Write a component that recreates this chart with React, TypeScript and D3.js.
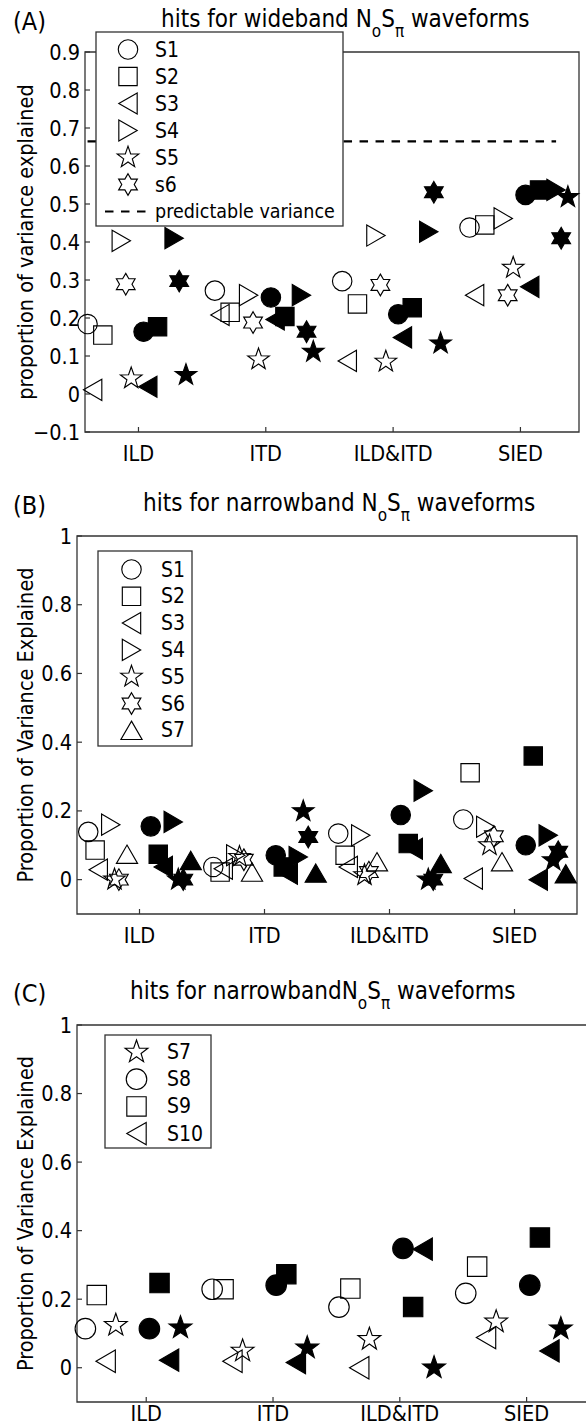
import React from "react";
import * as d3 from "d3";

// ---------- DATA ----------
const categories = ["ILD", "ITD", "ILD&ITD", "SIED"];

// Panel A: wideband
const subjectsA = ["S1", "S2", "S3", "S4", "S5", "s6"];
const shapesA = ["circle", "square", "left", "right", "star5", "star6"];
const openA = [
  [0.184, 0.272, 0.297, 0.438],
  [0.155, 0.215, 0.237, 0.445],
  [0.011, 0.208, 0.087, 0.26],
  [0.403, 0.26, 0.417, 0.462],
  [0.041, 0.091, 0.085, 0.332],
  [0.289, 0.188, 0.287, 0.26],
];
const filledA = [
  [0.164, 0.254, 0.21, 0.524],
  [0.177, 0.204, 0.227, 0.537],
  [0.019, 0.196, 0.149, 0.282],
  [0.41, 0.26, 0.427, 0.537],
  [0.05, 0.111, 0.133, 0.518],
  [0.297, 0.164, 0.531, 0.41],
];
const predictableVariance = 0.665;
const predictableRange = [0.6, 4.28];

// Panel B: narrowband
const subjectsB = ["S1", "S2", "S3", "S4", "S5", "S6", "S7"];
const shapesB = ["circle", "square", "left", "right", "star5", "star6", "up"];
const openB = [
  [0.139, 0.037, 0.134, 0.175],
  [0.086, 0.022, 0.071, 0.311],
  [0.029, 0.032, 0.037, 0.003],
  [0.16, 0.071, 0.129, 0.154],
  [0.0, 0.066, 0.013, 0.1],
  [0.0, 0.058, 0.022, 0.126],
  [0.074, 0.022, 0.052, 0.052],
];
const filledB = [
  [0.155, 0.071, 0.188, 0.1],
  [0.074, 0.037, 0.105, 0.36],
  [0.037, 0.017, 0.09, 0.0],
  [0.168, 0.066, 0.259, 0.129],
  [0.0, 0.199, 0.0, 0.056],
  [0.0, 0.124, 0.0, 0.081],
  [0.056, 0.019, 0.047, 0.017],
];

// Panel C: narrowband, new subjects
const subjectsC = ["S7", "S8", "S9", "S10"];
const shapesC = ["star5", "circle", "square", "left"];
const openC = [
  [0.124, 0.049, 0.083, 0.134],
  [0.114, 0.229, 0.177, 0.217],
  [0.212, 0.229, 0.231, 0.295],
  [0.019, 0.019, 0.0, 0.088],
];
const filledC = [
  [0.117, 0.058, 0.0, 0.114],
  [0.114, 0.241, 0.348, 0.241],
  [0.247, 0.273, 0.177, 0.38],
  [0.022, 0.015, 0.346, 0.049],
];

// per-subject horizontal jitter within a category (category units)
const jitterOpenA = [-0.4, -0.28, -0.36, -0.135, -0.057, -0.1];
const jitterFilledA = [0.04, 0.15, 0.073, 0.28, 0.373, 0.32];
const jitterOpenB = [-0.41, -0.355, -0.33, -0.23, -0.2, -0.165, -0.1];
const jitterFilledB = [0.09, 0.15, 0.19, 0.27, 0.31, 0.35, 0.41];
const jitterOpenC = [-0.24, -0.48, -0.39, -0.32];
const jitterFilledC = [0.27, 0.025, 0.105, 0.18];

const ticksA = [-0.1, 0, 0.1, 0.2, 0.3, 0.4, 0.5, 0.6, 0.7, 0.8, 0.9];
const ticksBC = [0, 0.2, 0.4, 0.6, 0.8, 1];

// ---------- STYLE ----------
const FONT = '"DejaVu Sans Condensed", "DejaVu Sans", sans-serif';
const AXIS = "#333";

function markerPath(shape: string, k = 1): string {
  if (shape === "circle") {
    const r = 9 * k;
    return `M${r},0A${r},${r} 0 1,1 ${-r},0A${r},${r} 0 1,1 ${r},0Z`;
  }
  if (shape === "square") {
    const h = 8.5 * k;
    return `M${-h},${-h}L${h},${-h}L${h},${h}L${-h},${h}Z`;
  }
  if (shape === "left" || shape === "right" || shape === "up") {
    const a = 8.5 * k;
    const b = 9.8 * k;
    let pts: number[][];
    if (shape === "left") pts = [[-a, 0], [a, -b], [a, b]];
    else if (shape === "right") pts = [[a, 0], [-a, -b], [-a, b]];
    else pts = [[0, -a], [b, a], [-b, a]];
    return "M" + pts.map((p) => p.join(",")).join("L") + "Z";
  }
  const n = shape === "star5" ? 5 : 6;
  const R = (n === 5 ? 10.5 : 10) * k;
  const r = n === 5 ? R * 0.4 : R / Math.sqrt(3);
  const pts: string[] = [];
  for (let i = 0; i < 2 * n; i++) {
    const ang = -Math.PI / 2 + (i * Math.PI) / n;
    const rr = i % 2 === 0 ? R : r;
    pts.push(`${(rr * Math.cos(ang)).toFixed(2)},${(rr * Math.sin(ang)).toFixed(2)}`);
  }
  return "M" + pts.join("L") + "Z";
}

type PanelProps = {
  letter: string;
  pre: string;
  titleX: number;
  titleY: number;
  ylabel: string;
  xRange: [number, number];
  xDomain: [number, number];
  yRange: [number, number];
  yDomain: [number, number];
  ticks: number[];
  subjects: string[];
  shapes: string[];
  open: number[][];
  filled: number[][];
  jOpen: number[];
  jFilled: number[];
  legend: { x: number; y: number; w: number; h: number; y0: number; dy: number; mx: number; tx: number };
  markerScale: number;
  xLabelDy: number;
  predictable?: boolean;
  svgW: number;
};

function Panel(p: PanelProps) {
  const x = d3.scaleLinear().domain(p.xDomain).range(p.xRange);
  const y = d3.scaleLinear().domain(p.yDomain).range(p.yRange);
  const [x0, x1] = p.xRange;
  const [yb, yt] = p.yRange;
  const fmt = (v: number) => {
    const s = d3.format("")(Math.round(v * 10) / 10);
    return s.replace("-", "\u2212");
  };
  const L = p.legend;
  const xr = Math.min(x1, p.svgW + 10);
  const sw = 1.15;
  return (
    <g>
      {/* panel letter and title */}
      <text x={13} y={p.titleY + 3} fontSize={25} fontFamily={FONT}>
        {p.letter}
      </text>
      <text x={p.titleX} y={p.titleY} fontSize={24} fontFamily={FONT}>
        {p.pre}N
        <tspan fontSize={17} dy={10}>o</tspan>
        <tspan dy={-10}>S</tspan>
        <tspan fontSize={17} dy={10}>{"\u03C0"}</tspan>
        <tspan dy={-10}> waveforms</tspan>
      </text>
      {/* y label */}
      <text
        transform={`translate(25,${(yb + yt) / 2}) rotate(-90)`}
        textAnchor="middle"
        dominantBaseline="central"
        fontSize={21.5}
        fontFamily={FONT}
      >
        {p.ylabel}
      </text>
      {/* axes box */}
      <path d={`M${x0},${yt}L${x0},${yb}L${xr},${yb}L${xr},${yt}Z`} fill="none" stroke={AXIS} strokeWidth={1.3} />
      {p.ticks.map((t) => (
        <g key={"yt" + t}>
          <line x1={x0} x2={x0 + 5} y1={y(t)} y2={y(t)} stroke={AXIS} strokeWidth={1.2} />
          <text x={x0 - 5} y={y(t)} textAnchor="end" dominantBaseline="central" fontSize={21.5} fontFamily={FONT}>
            {fmt(t)}
          </text>
        </g>
      ))}
      {categories.map((c, i) => (
        <g key={"xt" + c}>
          <line x1={x(i + 1)} x2={x(i + 1)} y1={yb} y2={yb - 5} stroke={AXIS} strokeWidth={1.2} />
          <text x={x(i + 1)} y={yb + p.xLabelDy} textAnchor="middle" fontSize={21.5} fontFamily={FONT}>
            {c}
          </text>
        </g>
      ))}
      {/* predictable variance */}
      {p.predictable && (
        <line
          x1={x(predictableRange[0])}
          x2={x(predictableRange[1])}
          y1={y(predictableVariance)}
          y2={y(predictableVariance)}
          stroke="#000"
          strokeWidth={2.2}
          strokeDasharray="8.5,7.5"
        />
      )}
      {/* markers */}
      {p.subjects.map((s, si) =>
        categories.map((c, ci) => (
          <g key={s + c}>
            <path
              d={markerPath(p.shapes[si], p.markerScale)}
              transform={`translate(${x(ci + 1 + p.jOpen[si])},${y(p.open[si][ci])})`}
              fill="none"
              stroke="#000"
              strokeWidth={sw}
            />
            <path
              d={markerPath(p.shapes[si], p.markerScale)}
              transform={`translate(${x(ci + 1 + p.jFilled[si])},${y(p.filled[si][ci])})`}
              fill="#000"
              stroke="#000"
              strokeWidth={sw}
            />
          </g>
        ))
      )}
      {/* legend */}
      <rect x={L.x} y={L.y} width={L.w} height={L.h} fill="#fff" stroke={AXIS} strokeWidth={1.3} />
      {p.subjects.map((s, si) => (
        <g key={"lg" + s}>
          <path
            d={markerPath(p.shapes[si], p.markerScale)}
            transform={`translate(${L.mx},${L.y0 + si * L.dy})`}
            fill="none"
            stroke="#000"
            strokeWidth={sw}
          />
          <text x={L.tx} y={L.y0 + si * L.dy} dominantBaseline="central" fontSize={21} fontFamily={FONT}>
            {s}
          </text>
        </g>
      ))}
      {p.predictable && (
        <g>
          <line
            x1={L.x + 9}
            x2={L.tx - 8}
            y1={L.y0 + p.subjects.length * L.dy}
            y2={L.y0 + p.subjects.length * L.dy}
            stroke="#000"
            strokeWidth={2.2}
            strokeDasharray="8.5,7.5"
          />
          <text
            x={L.tx}
            y={L.y0 + p.subjects.length * L.dy}
            dominantBaseline="central"
            fontSize={19.5}
            fontFamily={FONT}
          >
            predictable variance
          </text>
        </g>
      )}
    </g>
  );
}

export default function App() {
  const W = 586;
  const H = 1428;
  return (
    <svg
      width={W}
      height={H}
      viewBox={`0 0 ${W} ${H}`}
      style={{ position: "absolute", left: 0, top: 0, background: "#fff" }}
    >
      <rect width={W} height={H} fill="#fff" />
      <Panel
        letter="(A)"
        pre="hits for wideband "
        titleX={161}
        titleY={27}
        ylabel="proportion of variance explained"
        xRange={[85, 579]}
        xDomain={[0.58, 4.46]}
        yRange={[432, 52]}
        yDomain={[-0.1, 0.9]}
        ticks={ticksA}
        subjects={subjectsA}
        shapes={shapesA}
        open={openA}
        filled={filledA}
        jOpen={jitterOpenA}
        jFilled={jitterFilledA}
        legend={{ x: 96, y: 32, w: 247, h: 194, y0: 49.5, dy: 27, mx: 128, tx: 155 }}
        markerScale={1.08}
        xLabelDy={29}
        predictable
        svgW={W}
      />
      <Panel
        letter="(B)"
        pre="hits for narrowband "
        titleX={143}
        titleY={511}
        ylabel="Proportion of Variance Explained"
        xRange={[77, 577]}
        xDomain={[0.5, 4.5]}
        yRange={[914, 536]}
        yDomain={[-0.1, 1]}
        ticks={ticksBC}
        subjects={subjectsB}
        shapes={shapesB}
        open={openB}
        filled={filledB}
        jOpen={jitterOpenB}
        jFilled={jitterFilledB}
        legend={{ x: 98, y: 551, w: 94, h: 195, y0: 569.5, dy: 26.8, mx: 131.5, tx: 161 }}
        markerScale={1.08}
        xLabelDy={29}
        svgW={W}
      />
      <Panel
        letter="(C)"
        pre="hits for narrowband"
        titleX={130}
        titleY={999}
        ylabel="Proportion of Variance Explained"
        xRange={[77, 590]}
        xDomain={[0.454, 4.5]}
        yRange={[1402, 1025]}
        yDomain={[-0.1, 1]}
        ticks={ticksBC}
        subjects={subjectsC}
        shapes={shapesC}
        open={openC}
        filled={filledC}
        jOpen={jitterOpenC}
        jFilled={jitterFilledC}
        legend={{ x: 105, y: 1035, w: 106, h: 113, y0: 1052, dy: 27.2, mx: 136.5, tx: 167 }}
        markerScale={1.14}
        xLabelDy={19}
        svgW={W}
      />
    </svg>
  );
}
